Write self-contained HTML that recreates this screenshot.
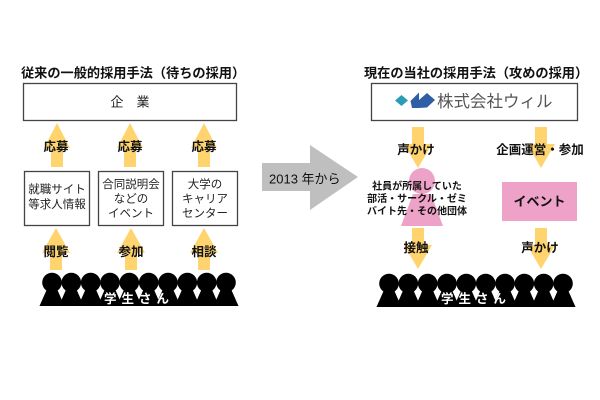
<!DOCTYPE html>
<html><head><meta charset="utf-8"><style>
html,body{margin:0;padding:0;background:#fff;width:600px;height:400px;overflow:hidden}
svg{display:block}
text{font-family:"Liberation Sans","Noto Sans CJK JP",sans-serif;dominant-baseline:central}
.t{font-size:13.2px;font-weight:bold;fill:#111}
.lb{font-size:12.5px;font-weight:bold;fill:#111;text-anchor:middle}
.bx{font-size:11.5px;fill:#222;text-anchor:middle}
.pk{font-size:10px;font-weight:bold;fill:#111;text-anchor:middle}
</style></head><body>
<svg width="600" height="400" viewBox="0 0 600 400" xmlns="http://www.w3.org/2000/svg">
<defs>
  <g id="up1"><polygon points="0,0 13,25 6,25 6,44 -6,44 -6,25 -13,25" fill="#FFD46F"/></g>
  <g id="up2"><polygon points="0,0 14,25 6,25 6,42 -6,42 -6,25 -14,25" fill="#FFD46F"/></g>
  <g id="dn"><polygon points="-6,0 6,0 6,17 14,17 0,41 -14,17 -6,17" fill="#FFD46F"/></g>
  <g id="person"><circle cx="0" cy="9.5" r="9.8"/><polygon points="-5,16 5,16 12.5,33 -12.5,33"/></g>
  <g id="crowd" fill="#000">
    <use href="#person" x="52" y="273"/>
    <use href="#person" x="71.3" y="273"/>
    <use href="#person" x="90.7" y="273"/>
    <use href="#person" x="110" y="273"/>
    <use href="#person" x="129.3" y="273"/>
    <use href="#person" x="148.7" y="273"/>
    <use href="#person" x="168" y="273"/>
    <use href="#person" x="187.3" y="273"/>
    <use href="#person" x="206.7" y="273"/>
    <use href="#person" x="226" y="273"/>
    <polygon points="44,300 232,300 238.5,306 39.5,306"/>
  </g>
</defs>

<!-- LEFT -->
<text class="t" x="21" y="73">従来の一般的採用手法（待ちの採用）</text>
<rect x="23.5" y="83.5" width="213" height="37" fill="#fff" stroke="#444" stroke-width="1.3"/>
<text x="130" y="102" style="font-size:13px;fill:#222;text-anchor:middle">企　業</text>

<use href="#up1" x="57" y="123"/>
<use href="#up1" x="130" y="123"/>
<use href="#up1" x="204" y="123"/>
<text class="lb" x="56" y="147">応募</text>
<text class="lb" x="130" y="147">応募</text>
<text class="lb" x="204" y="147">応募</text>

<rect x="24.5" y="171.5" width="65" height="54" fill="#fff" stroke="#444" stroke-width="1.3"/>
<rect x="98.5" y="171.5" width="65" height="54" fill="#fff" stroke="#444" stroke-width="1.3"/>
<rect x="172.5" y="171.5" width="65" height="54" fill="#fff" stroke="#444" stroke-width="1.3"/>
<text class="bx" x="57" y="190">就職サイト</text>
<text class="bx" x="57" y="205">等求人情報</text>
<text class="bx" x="131" y="185">合同説明会</text>
<text class="bx" x="131" y="199.5">などの</text>
<text class="bx" x="131" y="214">イベント</text>
<text class="bx" x="205" y="185">大学の</text>
<text class="bx" x="205" y="199.5">キャリア</text>
<text class="bx" x="205" y="214">センター</text>

<use href="#up2" x="56" y="228"/>
<use href="#up2" x="131" y="228"/>
<use href="#up2" x="204" y="228"/>
<text class="lb" x="56" y="252">閲覧</text>
<text class="lb" x="131" y="252">参加</text>
<text class="lb" x="204" y="252">相談</text>

<use href="#crowd" x="0" y="0"/>
<text x="139" y="299" style="font-size:12.5px;font-weight:bold;fill:#fff;text-anchor:middle;letter-spacing:5px">学生さん</text>

<!-- MIDDLE ARROW -->
<polygon points="262,163 310,163 310,145 358,177 310,210 310,191 262,191" fill="#BFBFBF"/>
<text x="269" y="179" style="font-size:13px;fill:#111">2013 年から</text>

<!-- RIGHT -->
<text class="t" x="364" y="73">現在の当社の採用手法（攻めの採用）</text>
<rect x="371.5" y="83.5" width="206" height="37" fill="#fff" stroke="#444" stroke-width="1.3"/>
<polygon points="395,100.5 401.5,95 408,100.5 401.5,106" fill="#2A9CB7"/>
<polygon points="410.5,101 419,92.5 419,108 412,108" fill="#2E5EA6"/>
<polygon points="419,100 427,93 435,100 427,107.5 419,108" fill="#2E5EA6"/>
<text x="437" y="102" style="font-size:16.5px;fill:#555">株式会社ウィル</text>

<use href="#dn" x="418" y="127"/>
<use href="#dn" x="541" y="127"/>
<text class="lb" x="416" y="150">声かけ</text>
<text class="lb" x="540" y="150">企画運営・参加</text>

<circle cx="422" cy="181" r="13" fill="#EEA2C8"/>
<polygon points="413,194 431,194 443,226 401,226" fill="#EEA2C8"/>
<text class="pk" x="417" y="187">社員が所属していた</text>
<text class="pk" x="417" y="199.5">部活・サークル・ゼミ</text>
<text class="pk" x="417" y="212">バイト先・その他団体</text>

<rect x="502" y="182" width="75" height="39" fill="#EEA2C8"/>
<text x="539.5" y="201.5" style="font-size:13px;font-weight:bold;fill:#111;text-anchor:middle">イベント</text>

<use href="#dn" x="418" y="228"/>
<use href="#dn" x="541" y="228"/>
<text class="lb" x="416" y="248">接触</text>
<text class="lb" x="540" y="248">声かけ</text>

<use href="#crowd" x="337" y="1"/>
<text x="476" y="299" style="font-size:12.5px;font-weight:bold;fill:#fff;text-anchor:middle;letter-spacing:5px">学生さん</text>
</svg>
</body></html>
